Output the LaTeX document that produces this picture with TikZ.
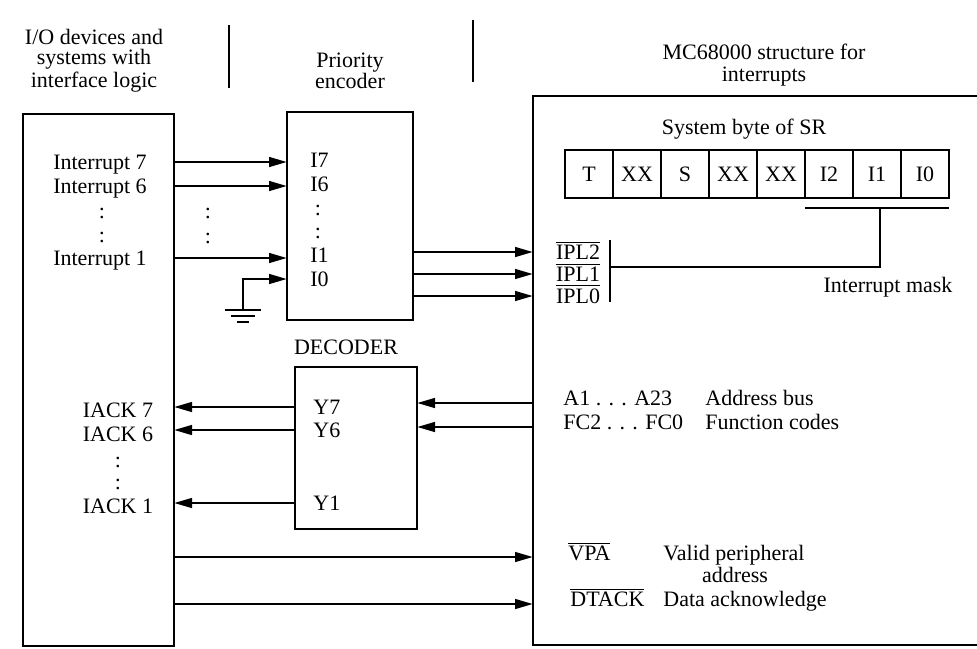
\documentclass[tikz,border=0pt]{standalone}
\usepackage{fontspec}
\setmainfont{Liberation Serif}
\usetikzlibrary{arrows.meta,fit}
\newcommand{\ovl}[1]{$\overline{\mbox{#1}}$}
\begin{document}
\begin{tikzpicture}[x=0.5pt,y=-0.5pt,
  box/.style={draw, line width=1.4pt, inner sep=0pt, outer sep=0pt},
  cell/.style={draw, line width=1.2pt, inner sep=0pt, outer sep=0pt},
  txt/.style={inner sep=0pt, text height=7.3pt, text depth=0pt},
  arr/.style={line width=1.3pt, -{Triangle[length=9pt,width=4.8pt]}},
  wire/.style={line width=1.3pt},
  font=\fontsize{11}{13}\selectfont]
\useasboundingbox (0,0) rectangle (977,648);

% headers
\node[txt] at (94,37) {I/O devices and};
\node[txt] at (94,57) {systems with};
\node[txt] at (94,80) {interface logic};
\node[txt] at (350,60) {Priority};
\node[txt] at (350,81) {encoder};
\node[txt] at (764,52) {MC68000 structure for};
\node[txt] at (764,74) {interrupts};
\draw[line width=1.4pt] (229,25) -- (229,88);
\draw[line width=1.4pt] (473,20) -- (473,82);

% blocks
\node[box, fit={(23,114) (174,646)}] (io) {};
\node[box, fit={(287,112) (413,320)}] (enc) {};
\node[box, fit={(295,367) (417,529)}] (dec) {};
\node[box, fit={(533,96) (995,645)}] (cpu) {};

% I/O labels
\node[txt] (int7) at (100,162) {Interrupt 7};
\node[txt] (int6) at (100,186) {Interrupt 6};
\node[txt] at (102,211) {:};
\node[txt] at (102,235) {:};
\node[txt] (int1) at (100,258) {Interrupt 1};
\node[txt] (iack7) at (118,410) {IACK 7};
\node[txt] (iack6) at (118,434) {IACK 6};
\node[txt] at (118,460) {:};
\node[txt] at (118,482) {:};
\node[txt] (iack1) at (118,506) {IACK 1};

% encoder labels
\node[txt, anchor=west] (i7) at (310,160) {I7};
\node[txt, anchor=west] (i6) at (310,184) {I6};
\node[txt] at (318,208) {:};
\node[txt] at (318,231) {:};
\node[txt, anchor=west] (i1) at (310,255) {I1};
\node[txt, anchor=west] (i0) at (310,279) {I0};
\node[txt] at (208,211) {:};
\node[txt] at (208,236) {:};

% interrupt arrows
\draw[arr] (io.east |- int7) -- (enc.west |- int7);
\draw[arr] (io.east |- int6) -- (enc.west |- int6);
\draw[arr] (io.east |- int1) -- (enc.west |- int1);
\coordinate (gnd) at (243,310);
\draw[arr] (gnd) |- (enc.west |- i0);
\draw[line width=1pt] (225,310) -- (261,310);
\draw[line width=1pt] (231,316) -- (255,316);
\draw[line width=1pt] (237,322) -- (249,322);

% decoder
\node[txt] at (346,347) {DECODER};
\node[txt, anchor=west] (y7) at (313,407) {Y7};
\node[txt, anchor=west] (y6) at (313,430) {Y6};
\node[txt, anchor=west] (y1) at (313,503) {Y1};
\draw[arr] (dec.west |- y7) -- (io.east |- y7);
\draw[arr] (dec.west |- y6) -- (io.east |- y6);
\draw[arr] (dec.west |- y1) -- (io.east |- y1);

% SR
\node[txt] at (744,127) {System byte of SR};
\foreach \t [count=\i from 0] in {T,XX,S,XX,XX,I2,I1,I0} {
  \node[cell, fit={({565+48*\i},150) ({613+48*\i},198)}] (sr\i) {};
  \node[txt] at (sr\i.center) {\t};
}
\coordinate (mL) at ([yshift=-5pt]sr5.south west);
\coordinate (mR) at ([yshift=-5pt]sr7.south east);
\coordinate (mC) at (880,208);
\coordinate (mE) at (610,267);
\draw[wire] (mL) -- (mR);
\draw[wire] (mC) |- (mE);
\draw[wire] (610,240) -- (610,302);
\node[txt] at (888,285) {Interrupt mask};

% IPL
\node[txt] (ipl2) at (578,252) {\ovl{IPL2}};
\node[txt] (ipl1) at (578,274) {\ovl{IPL1}};
\node[txt] (ipl0) at (578,296) {\ovl{IPL0}};
\draw[arr] (enc.east |- ipl2) -- (cpu.west |- ipl2);
\draw[arr] (enc.east |- ipl1) -- (cpu.west |- ipl1);
\draw[arr] (enc.east |- ipl0) -- (cpu.west |- ipl0);

% address / function codes
\node[txt, anchor=west] at (563,398) {A1 . . . A23};
\node[txt, anchor=west] at (563,422) {FC2 . . . FC0};
\node[txt, anchor=west] at (705,398) {Address bus};
\node[txt, anchor=west] at (705,422) {Function codes};
\coordinate (ya) at (0,403);
\coordinate (yf) at (0,427);
\draw[arr] (cpu.west |- ya) -- (dec.east |- ya);
\draw[arr] (cpu.west |- yf) -- (dec.east |- yf);

% VPA / DTACK
\node[txt, anchor=west] at (568,553) {\ovl{VPA}};
\node[txt, anchor=west] at (663,553) {Valid peripheral};
\node[txt] at (735,575) {address};
\node[txt, anchor=west] at (570,599) {\ovl{DTACK}};
\node[txt, anchor=west] at (663,599) {Data acknowledge};
\coordinate (yv) at (0,557);
\coordinate (yd) at (0,604);
\draw[arr] (io.east |- yv) -- (cpu.west |- yv);
\draw[arr] (io.east |- yd) -- (cpu.west |- yd);
\end{tikzpicture}
\end{document}
